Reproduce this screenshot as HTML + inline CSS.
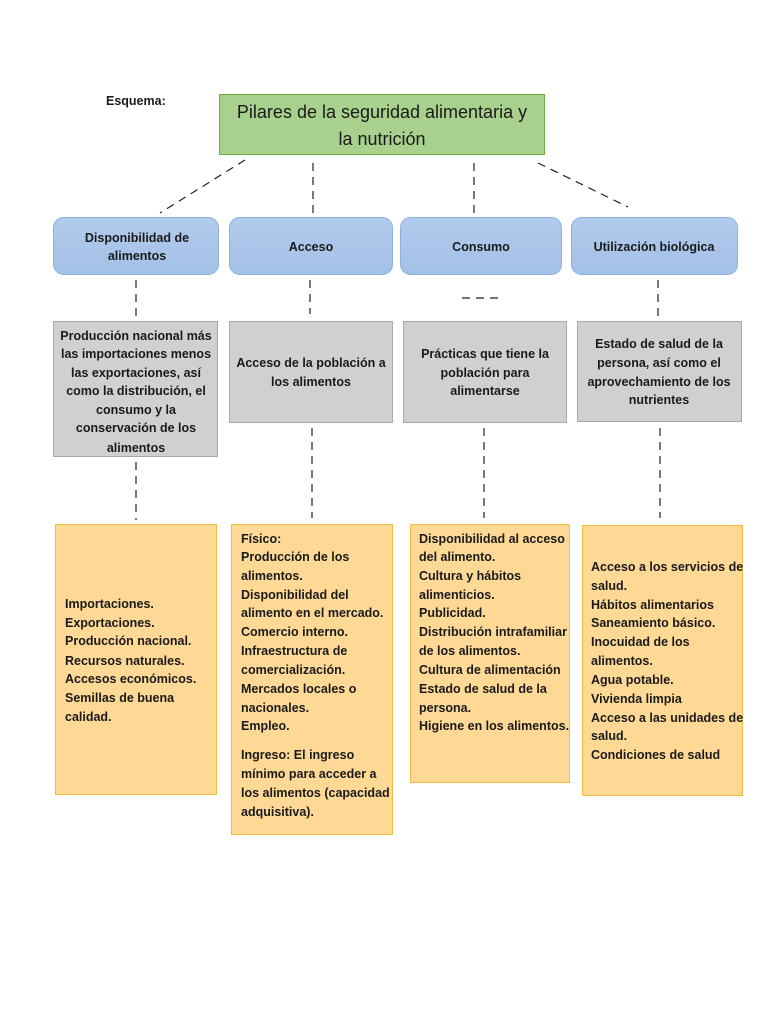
<!DOCTYPE html>
<html><head><meta charset="utf-8"><style>
html,body{margin:0;padding:0;background:#fff;}
svg{display:block;}
text{font-family:"Liberation Sans Narrow","Liberation Sans",sans-serif;fill:#1a1a1a;}
.t{font-size:12.5px;font-weight:bold;}
</style></head><body>
<svg width="768" height="1024" viewBox="0 0 768 1024" xmlns="http://www.w3.org/2000/svg">
<defs>
<linearGradient id="bl" x1="0" y1="0" x2="0" y2="1">
<stop offset="0" stop-color="#b1cbec"/><stop offset="1" stop-color="#a3c0e6"/>
</linearGradient>
</defs>
<text x="106" y="105" class="t">Esquema:</text>
<rect x="219.5" y="94.5" width="325" height="60" fill="#a9d18e" stroke="#70ad47"/>
<text x="382" y="118" font-size="18" text-anchor="middle">Pilares de la seguridad alimentaria y</text>
<text x="382" y="145" font-size="18" text-anchor="middle">la nutrición</text>

<g stroke="#222" stroke-width="1.2" stroke-dasharray="8,6" fill="none">
<line x1="245" y1="160" x2="160" y2="213"/>
<line x1="313" y1="163" x2="313" y2="216"/>
<line x1="474" y1="163" x2="474" y2="216"/>
<line x1="538" y1="163" x2="628" y2="207"/>
<line x1="136" y1="280" x2="136" y2="316"/>
<line x1="310" y1="280" x2="310" y2="314"/>
<line x1="462" y1="298" x2="498" y2="298"/>
<line x1="658" y1="280" x2="658" y2="316"/>
<line x1="136" y1="462" x2="136" y2="520"/>
<line x1="312" y1="428" x2="312" y2="518"/>
<line x1="484" y1="428" x2="484" y2="518"/>
<line x1="660" y1="428" x2="660" y2="518"/>
</g>

<g fill="url(#bl)" stroke="#8eb0dc">
<rect x="53.5" y="217.5" width="165" height="57" rx="10"/>
<rect x="229.5" y="217.5" width="163" height="57" rx="10"/>
<rect x="400.5" y="217.5" width="161" height="57" rx="10"/>
<rect x="571.5" y="217.5" width="166" height="57" rx="10"/>
</g>
<g class="t" text-anchor="middle">
<text x="137" y="242">Disponibilidad de</text>
<text x="137" y="260">alimentos</text>
<text x="311" y="251">Acceso</text>
<text x="481" y="251">Consumo</text>
<text x="654" y="251">Utilización biológica</text>
</g>

<g fill="#d0d0d0" stroke="#a8a8a8">
<rect x="53.5" y="321.5" width="164" height="135"/>
<rect x="229.5" y="321.5" width="163" height="101"/>
<rect x="403.5" y="321.5" width="163" height="101"/>
<rect x="577.5" y="321.5" width="164" height="100"/>
</g>
<g class="t" text-anchor="middle">
<text x="136" y="340">Producción nacional más</text>
<text x="136" y="358">las importaciones menos</text>
<text x="136" y="377">las exportaciones, así</text>
<text x="136" y="395">como la distribución, el</text>
<text x="136" y="414">consumo y la</text>
<text x="136" y="432">conservación de los</text>
<text x="136" y="452">alimentos</text>
<text x="311" y="367">Acceso de la población a</text>
<text x="311" y="386">los alimentos</text>
<text x="485" y="358">Prácticas que tiene la</text>
<text x="485" y="377">población para</text>
<text x="485" y="395">alimentarse</text>
<text x="659" y="348">Estado de salud de la</text>
<text x="659" y="367">persona, así como el</text>
<text x="659" y="386">aprovechamiento de los</text>
<text x="659" y="404">nutrientes</text>
</g>

<g fill="#fed995" stroke="#f5bb45">
<rect x="55.5" y="524.5" width="161" height="270"/>
<rect x="231.5" y="524.5" width="161" height="310"/>
<rect x="410.5" y="524.5" width="159" height="258"/>
<rect x="582.5" y="525.5" width="160" height="270"/>
</g>
<g class="t">
<text x="65" y="608">Importaciones.</text>
<text x="65" y="627">Exportaciones.</text>
<text x="65" y="645">Producción nacional.</text>
<text x="65" y="665">Recursos naturales.</text>
<text x="65" y="683">Accesos económicos.</text>
<text x="65" y="702">Semillas de buena</text>
<text x="65" y="721">calidad.</text>

<text x="241" y="543">Físico:</text>
<text x="241" y="561">Producción de los</text>
<text x="241" y="580">alimentos.</text>
<text x="241" y="599">Disponibilidad del</text>
<text x="241" y="617">alimento en el mercado.</text>
<text x="241" y="636">Comercio interno.</text>
<text x="241" y="655">Infraestructura de</text>
<text x="241" y="674">comercialización.</text>
<text x="241" y="693">Mercados locales o</text>
<text x="241" y="712">nacionales.</text>
<text x="241" y="730">Empleo.</text>
<text x="241" y="759">Ingreso: El ingreso</text>
<text x="241" y="778">mínimo para acceder a</text>
<text x="241" y="797">los alimentos (capacidad</text>
<text x="241" y="816">adquisitiva).</text>

<text x="419" y="543">Disponibilidad al acceso</text>
<text x="419" y="561">del alimento.</text>
<text x="419" y="580">Cultura y hábitos</text>
<text x="419" y="599">alimenticios.</text>
<text x="419" y="617">Publicidad.</text>
<text x="419" y="636">Distribución intrafamiliar</text>
<text x="419" y="655">de los alimentos.</text>
<text x="419" y="674">Cultura de alimentación</text>
<text x="419" y="693">Estado de salud de la</text>
<text x="419" y="712">persona.</text>
<text x="419" y="730">Higiene en los alimentos.</text>

<text x="591" y="571">Acceso a los servicios de</text>
<text x="591" y="590">salud.</text>
<text x="591" y="609">Hábitos alimentarios</text>
<text x="591" y="627">Saneamiento básico.</text>
<text x="591" y="646">Inocuidad de los</text>
<text x="591" y="665">alimentos.</text>
<text x="591" y="684">Agua potable.</text>
<text x="591" y="703">Vivienda limpia</text>
<text x="591" y="722">Acceso a las unidades de</text>
<text x="591" y="740">salud.</text>
<text x="591" y="759">Condiciones de salud</text>
</g>
</svg>
</body></html>
